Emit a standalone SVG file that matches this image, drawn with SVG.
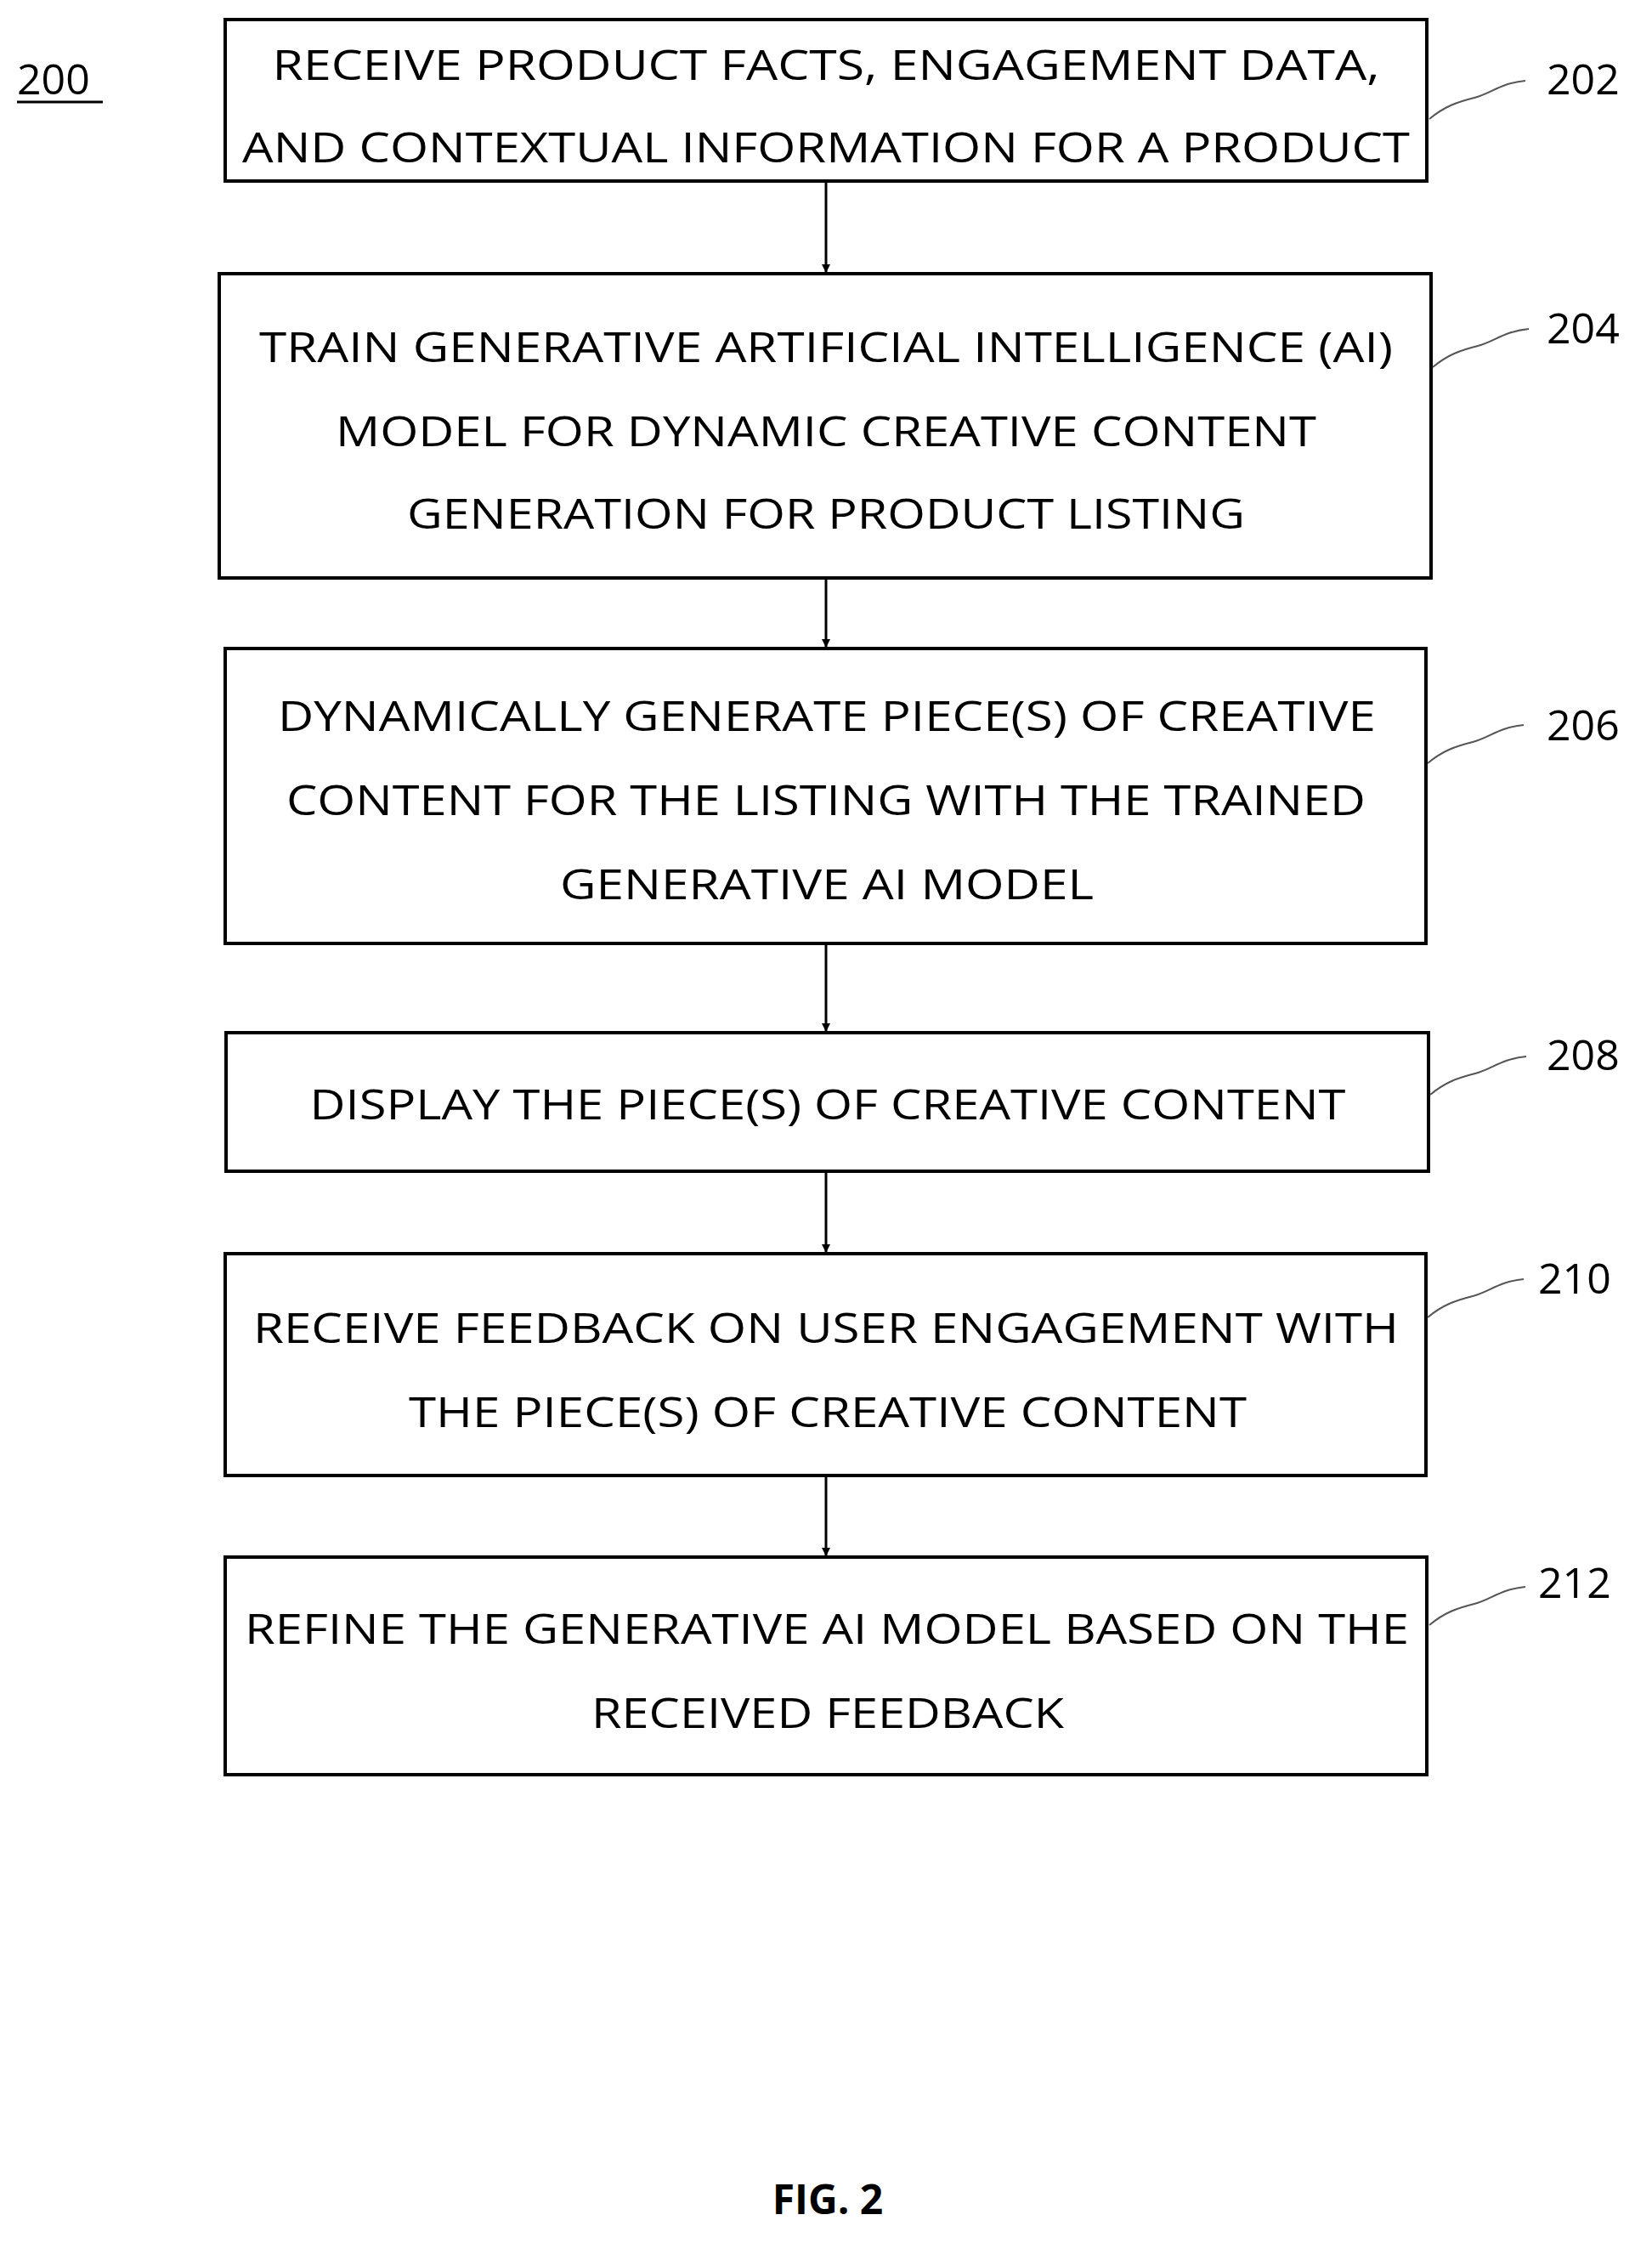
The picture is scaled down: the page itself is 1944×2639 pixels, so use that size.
<svg xmlns="http://www.w3.org/2000/svg" width="1944" height="2639" viewBox="0 0 1944 2639">
<style>
.b{fill:#fff;stroke:#000;stroke-width:4}
.t{font-family:"Open Sans","Liberation Sans",sans-serif;font-size:50px;fill:#000;text-anchor:middle}
.l{font-family:"Open Sans","Liberation Sans",sans-serif;font-size:50px;fill:#000}
.c{fill:none;stroke:#000;stroke-width:3}
.s{fill:none;stroke:#555;stroke-width:2}
</style>
<defs><marker id="a" markerWidth="10" markerHeight="10" refX="9" refY="5" orient="auto" markerUnits="userSpaceOnUse" viewBox="0 0 10 10"><path d="M0,0 L10,5 L0,10 z" fill="#000"/></marker></defs>
<rect width="1944" height="2639" fill="#fff"/>
<g id="title"><text class="l" x="20" y="111">200</text><line x1="20" y1="120" x2="121" y2="120" stroke="#000" stroke-width="3"/></g>
<g id="connectors">
<line class="c" x1="972" y1="213" x2="972" y2="320" marker-end="url(#a)" style="stroke-width:3"/>
<line class="c" x1="972" y1="680" x2="972" y2="761" marker-end="url(#a)"/>
<line class="c" x1="972" y1="1110" x2="972" y2="1213" marker-end="url(#a)"/>
<line class="c" x1="972" y1="1378" x2="972" y2="1473" marker-end="url(#a)"/>
<line class="c" x1="972" y1="1736" x2="972" y2="1830" marker-end="url(#a)"/>
</g>
<g id="n202"><rect class="b" x="265" y="23" width="1414" height="190"/>
<text class="t" x="972" y="94" textLength="1303" lengthAdjust="spacingAndGlyphs">RECEIVE PRODUCT FACTS, ENGAGEMENT DATA,</text>
<text class="t" x="972" y="191" textLength="1374" lengthAdjust="spacingAndGlyphs">AND CONTEXTUAL INFORMATION FOR A PRODUCT</text>
<path class="s" d="M1682,140 C1700,125 1715,120 1735,115 C1755,110 1765,98 1795,95"/><text class="l" x="1820" y="111">202</text></g>
<g id="n204"><rect class="b" x="258" y="322" width="1426" height="358"/>
<text class="t" x="972" y="426" textLength="1334" lengthAdjust="spacingAndGlyphs">TRAIN GENERATIVE ARTIFICIAL INTELLIGENCE (AI)</text>
<text class="t" x="972" y="525" textLength="1154" lengthAdjust="spacingAndGlyphs">MODEL FOR DYNAMIC CREATIVE CONTENT</text>
<text class="t" x="972" y="622" textLength="986" lengthAdjust="spacingAndGlyphs">GENERATION FOR PRODUCT LISTING</text>
<path class="s" d="M1686,432 C1704,417 1719,412 1739,407 C1759,402 1769,390 1799,387"/><text class="l" x="1820" y="404">204</text></g>
<g id="n206"><rect class="b" x="265" y="763" width="1413" height="347"/>
<text class="t" x="973" y="860" textLength="1292" lengthAdjust="spacingAndGlyphs">DYNAMICALLY GENERATE PIECE(S) OF CREATIVE</text>
<text class="t" x="972" y="959" textLength="1270" lengthAdjust="spacingAndGlyphs">CONTENT FOR THE LISTING WITH THE TRAINED</text>
<text class="t" x="973" y="1058" textLength="628" lengthAdjust="spacingAndGlyphs">GENERATIVE AI MODEL</text>
<path class="s" d="M1680,898 C1698,883 1713,878 1733,873 C1753,868 1763,856 1793,853"/><text class="l" x="1820" y="871">206</text></g>
<g id="n208"><rect class="b" x="266" y="1215" width="1415" height="163"/>
<text class="t" x="974" y="1317" textLength="1219" lengthAdjust="spacingAndGlyphs">DISPLAY THE PIECE(S) OF CREATIVE CONTENT</text>
<path class="s" d="M1683,1288 C1701,1273 1716,1268 1736,1263 C1756,1258 1766,1246 1796,1243"/><text class="l" x="1820" y="1259">208</text></g>
<g id="n210"><rect class="b" x="265" y="1475" width="1413" height="261"/>
<text class="t" x="972" y="1580" textLength="1348" lengthAdjust="spacingAndGlyphs">RECEIVE FEEDBACK ON USER ENGAGEMENT WITH</text>
<text class="t" x="974" y="1679" textLength="986" lengthAdjust="spacingAndGlyphs">THE PIECE(S) OF CREATIVE CONTENT</text>
<path class="s" d="M1680,1550 C1698,1535 1713,1530 1733,1525 C1753,1520 1763,1508 1793,1505"/><text class="l" x="1810" y="1522">210</text></g>
<g id="n212"><rect class="b" x="265" y="1832" width="1414" height="256"/>
<text class="t" x="973" y="1934" textLength="1370" lengthAdjust="spacingAndGlyphs">REFINE THE GENERATIVE AI MODEL BASED ON THE</text>
<text class="t" x="974" y="2033" textLength="556" lengthAdjust="spacingAndGlyphs">RECEIVED FEEDBACK</text>
<path class="s" d="M1682,1912 C1700,1897 1715,1892 1735,1887 C1755,1882 1765,1870 1795,1867"/><text class="l" x="1810" y="1880">212</text></g>
<g id="fig"><text class="t" x="974" y="2605" style="font-weight:bold;font-size:48px">FIG. 2</text></g>
</svg>
